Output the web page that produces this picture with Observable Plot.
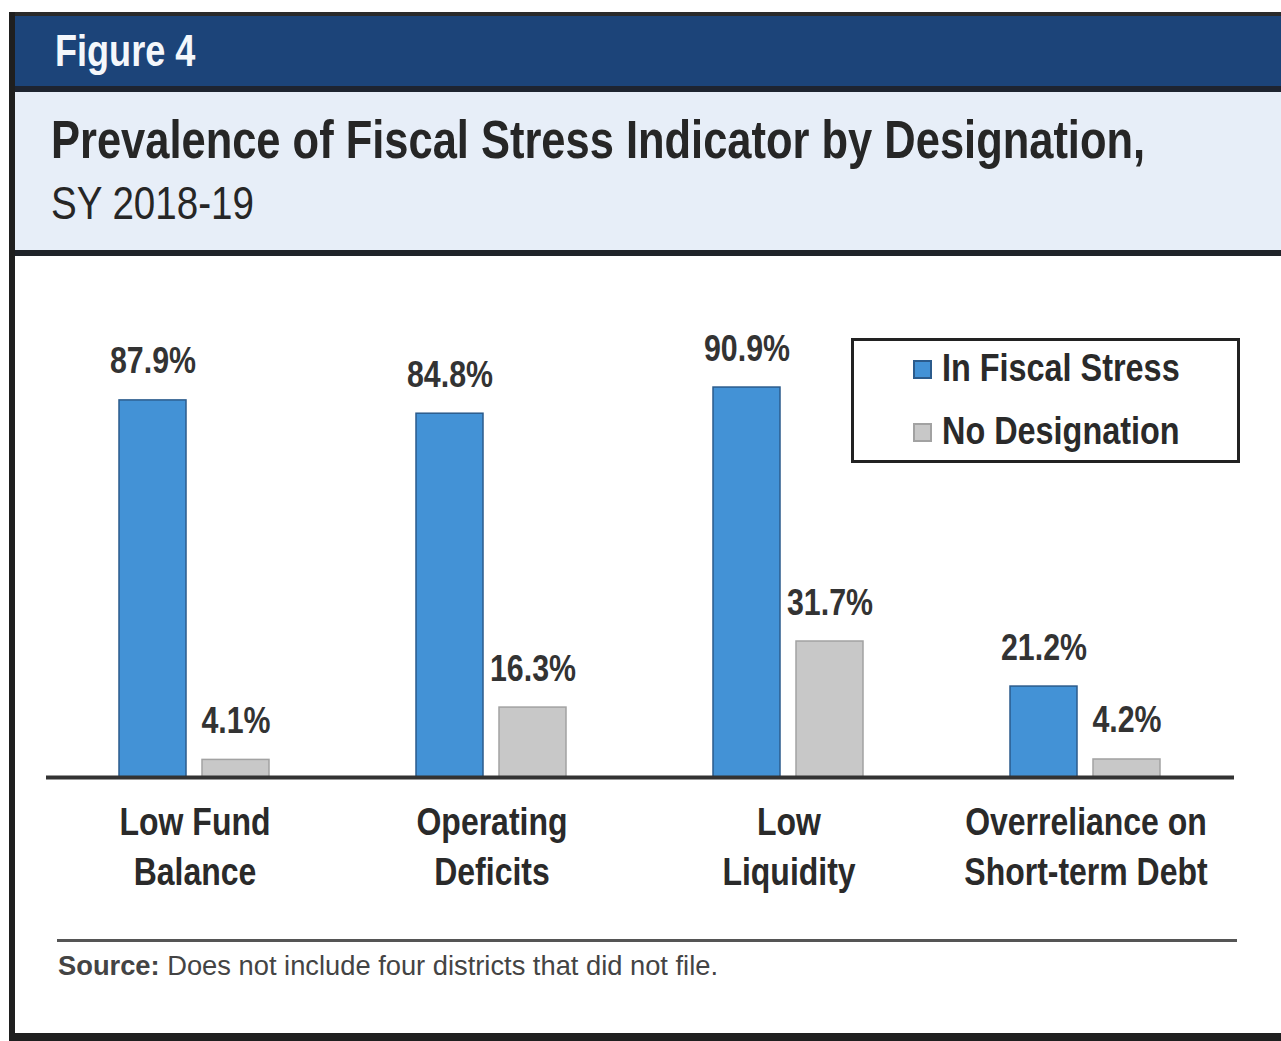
<!DOCTYPE html>
<html>
<head>
<meta charset="utf-8">
<script src="https://cdn.jsdelivr.net/npm/d3@7"></script>
<script src="https://cdn.jsdelivr.net/npm/@observablehq/plot@0.6"></script>
<style>
  html, body { margin: 0; padding: 0; background: #fff; }
  body { width: 1281px; height: 1041px; position: relative; overflow: hidden; }
</style>
</head>
<body>
<script>
// ---- Data ----
const categories = ["Low Fund Balance", "Operating Deficits", "Low Liquidity", "Overreliance on Short-term Debt"];
const categoryLabels = ["Low Fund\nBalance", "Operating\nDeficits", "Low\nLiquidity", "Overreliance on\nShort-term Debt"];
const series = ["In Fiscal Stress", "No Designation"];
const inFiscalStress = [87.9, 84.8, 90.9, 21.2];
const noDesignation = [4.1, 16.3, 31.7, 4.2];
const figureLabel = "Figure 4";
const titleText = "Prevalence of Fiscal Stress Indicator by Designation,";
const subtitleText = "SY 2018-19";
const sourceLabel = "Source:";
const sourceText = "Does not include four districts that did not file.";

const SANS = "'Liberation Sans', Arial, Helvetica, sans-serif";
const SQUEEZE = 0.82; // narrow (condensed) look
const BLUE = "#4392d6", BLUE_STROKE = "#2b5b8c";
const GRAY = "#c8c8c8", GRAY_STROKE = "#a2a2a2";

function el(tag, style, text) {
  const e = document.createElement(tag);
  e.setAttribute("style", style);
  if (text != null) e.textContent = text;
  document.body.appendChild(e);
  return e;
}
// narrow text helper: baseline-positioned, horizontally condensed
function narrowText(text, left, baseline, size, weight, color) {
  return el("div", `position:absolute;left:${left}px;top:${baseline - 0.85 * size}px;font-family:${SANS};font-weight:${weight};font-size:${size}px;line-height:1;color:${color};white-space:nowrap;transform:scaleX(${SQUEEZE});transform-origin:0 0;`, text);
}

// ---- Frame & header bands ----
el("div", "position:absolute;left:15px;top:15px;width:1300px;height:71px;background:#1c4479;");
el("div", "position:absolute;left:15px;top:86px;width:1300px;height:6px;background:#1e2430;");
el("div", "position:absolute;left:15px;top:92px;width:1300px;height:158px;background:#e7eef8;");
el("div", "position:absolute;left:15px;top:250px;width:1300px;height:6px;background:#1f2329;");
el("div", "position:absolute;left:9px;top:12px;width:1300px;height:4px;background:#2a2a2a;");
el("div", "position:absolute;left:9px;top:12px;width:6px;height:1029px;background:#1f1f1f;");
el("div", "position:absolute;left:9px;top:1033px;width:1300px;height:8px;background:#1f1f1f;");

// Titles
narrowText(figureLabel, 55, 66, 44, "bold", "#f4f7fb");
narrowText(titleText, 51, 158, 53, "bold", "#262626");
narrowText(subtitleText, 51, 219, 47, "normal", "#262626");

// ---- Chart ----
const data = categories.flatMap((c, i) => [
  {category: c, series: series[0], value: inFiscalStress[i]},
  {category: c, series: series[1], value: noDesignation[i]}
]);
const fmt = d => d.value.toFixed(1) + "%";

const chart = Plot.plot({
  width: 1281,
  height: 637,
  marginLeft: 45,
  marginRight: 46,
  marginTop: 78,
  marginBottom: 130,
  fx: {domain: categories, padding: 0, axis: null},
  x: {domain: series, paddingInner: 0.19, paddingOuter: 0.866, axis: null},
  y: {domain: [0, 100], axis: null},
  style: {fontFamily: SANS, background: "transparent", overflow: "visible"},
  marks: [
    Plot.barY(data.filter(d => d.series === series[0]), {fx: "category", x: "series", y: "value", fill: BLUE, stroke: BLUE_STROKE, strokeWidth: 1.5}),
    Plot.barY(data.filter(d => d.series === series[1]), {fx: "category", x: "series", y: "value", fill: GRAY, stroke: GRAY_STROKE, strokeWidth: 1.5}),
    Plot.ruleY([0], {stroke: "#333", strokeWidth: 4}),
    Plot.text(data, {fx: "category", x: "series", y: "value", text: fmt, dy: -27, fontSize: 37, fontWeight: "bold", fill: "#333"}),
    Plot.text(categories, {fx: d => d, text: (d, i) => categoryLabels[i], frameAnchor: "bottom", lineAnchor: "top", dy: 22, fontSize: 39, fontWeight: "bold", lineHeight: 1.28, fill: "#2a2a2a"})
  ]
});
// condense every SVG text horizontally around its own anchor
chart.querySelectorAll("text").forEach(t => {
  let tr = t.getAttribute("transform") || "";
  if (t.hasAttribute("x") || t.hasAttribute("y")) {
    const x = +t.getAttribute("x") || 0, y = +t.getAttribute("y") || 0;
    t.removeAttribute("x"); t.removeAttribute("y");
    tr += ` translate(${x},${y})`;
  }
  t.setAttribute("transform", `${tr} scale(${SQUEEZE},1)`);
});
chart.style.position = "absolute";
chart.style.left = "0px";
chart.style.top = "270px";
document.body.appendChild(chart);

// ---- Legend ----
el("div", "position:absolute;left:851px;top:338px;width:389px;height:125px;box-sizing:border-box;border:3px solid #222;background:#fff;");
const colors = [[BLUE, BLUE_STROKE], [GRAY, GRAY_STROKE]];
series.forEach((s, i) => {
  const cy = 369 + i * 63;
  el("div", `position:absolute;left:913px;top:${cy - 9}px;width:19px;height:19px;box-sizing:border-box;background:${colors[i][0]};border:2px solid ${colors[i][1]};`);
  narrowText(s, 942, cy + 13, 39.5, "bold", "#2a2a2a");
});

// ---- Source note ----
el("div", "position:absolute;left:57px;top:939px;width:1180px;height:3px;background:#555;");
const src = el("div", `position:absolute;left:58px;top:${975 - 0.85 * 27.3}px;font-family:${SANS};font-size:27.3px;line-height:1;color:#444;white-space:nowrap;`);
const b = document.createElement("b"); b.textContent = sourceLabel; src.appendChild(b);
src.appendChild(document.createTextNode(" " + sourceText));
</script>
</body>
</html>
